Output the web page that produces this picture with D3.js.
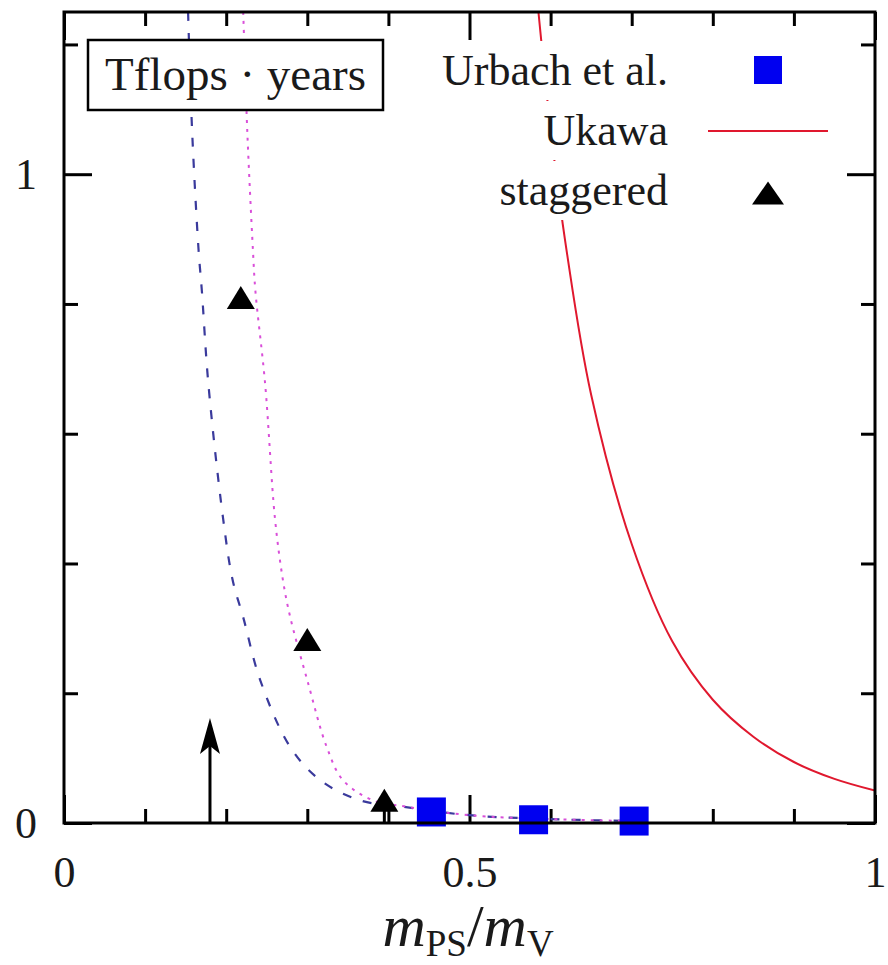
<!DOCTYPE html>
<html>
<head>
<meta charset="utf-8">
<style>
  body { margin: 0; background: #fff; }
  svg { display: block; }
  text { font-family: "Liberation Serif", serif; fill: #1a1a1a; }
  .frame { fill: none; stroke: #000; stroke-width: 3; }
  .axis path { display: none; }
  .axis line { stroke: #000; stroke-width: 3; }
  .axis text { font-size: 44px; font-family: "Liberation Serif", serif; fill: #1a1a1a; }
</style>
</head>
<body>
<svg width="888" height="965"></svg>
<script src="https://cdn.jsdelivr.net/npm/d3@7"></script>
<script>
// values
var urbachX = [0.453, 0.579, 0.703];
var urbachY = [0.017, 0.005, 0.003];

var staggeredX = [0.218, 0.300, 0.395];
var staggeredY = [0.81, 0.283, 0.035];
var staggeredErr = [0, 0, 0.035];

var ukawaX = [0.585, 0.60, 0.62, 0.65, 0.70, 0.75, 0.80, 0.85, 0.90, 0.95, 1.00];
var ukawaY = [1.25, 1.07, 0.88, 0.66, 0.43, 0.28, 0.19, 0.133, 0.094, 0.068, 0.05];

var dashedX = [0.153, 0.158, 0.166, 0.170, 0.178, 0.196, 0.208, 0.221, 0.242, 0.279, 0.316, 0.365, 0.418, 0.50, 0.60, 0.70];
var dashedY = [1.25, 1.066, 0.882, 0.820, 0.677, 0.471, 0.374, 0.317, 0.220, 0.117, 0.066, 0.035, 0.025, 0.012, 0.006, 0.003];

var dottedX = [0.221, 0.226, 0.233, 0.236, 0.248, 0.260, 0.270, 0.279, 0.300, 0.324, 0.344, 0.381, 0.423, 0.50, 0.60, 0.70];
var dottedY = [1.25, 1.066, 0.882, 0.820, 0.677, 0.471, 0.374, 0.317, 0.220, 0.117, 0.066, 0.035, 0.025, 0.012, 0.006, 0.003];

var arrowX = 0.18, arrowTop = 0.162;

var xMajor = [0, 0.5, 1];
var xMinor = [0.1, 0.2, 0.3, 0.4, 0.6, 0.7, 0.8, 0.9];
var yMajor = [0, 1];
var yMinor = [0.2, 0.4, 0.6, 0.8, 1.2];

var legendLabels = ["Urbach et al.", "Ukawa", "staggered"];
var boxLabel = "Tflops \u00b7 years";

var svg = d3.select("svg");

var pLeft = 64, pRight = 875, pTop = 12, pBottom = 823;

var x = d3.scaleLinear().domain([0, 1]).range([pLeft, pRight]);
var y = d3.scaleLinear().domain([0, 1.25]).range([pBottom, pTop]);

var fmt = function(d) { return String(d); };

// ticks, pointing inward on all four sides
svg.append("g").attr("class", "axis")
    .attr("transform", "translate(0," + pBottom + ")")
    .call(d3.axisBottom(x).tickValues(xMajor).tickSize(-28).tickPadding(33).tickFormat(fmt));
svg.append("g").attr("class", "axis")
    .attr("transform", "translate(0," + pBottom + ")")
    .call(d3.axisBottom(x).tickValues(xMinor).tickSize(-14).tickFormat(""));
svg.append("g").attr("class", "axis")
    .attr("transform", "translate(0," + pTop + ")")
    .call(d3.axisTop(x).tickValues(xMajor).tickSize(-28).tickFormat(""));
svg.append("g").attr("class", "axis")
    .attr("transform", "translate(0," + pTop + ")")
    .call(d3.axisTop(x).tickValues(xMinor).tickSize(-14).tickFormat(""));

svg.append("g").attr("class", "axis")
    .attr("transform", "translate(" + pLeft + ",0)")
    .call(d3.axisLeft(y).tickValues(yMajor).tickSize(-28).tickPadding(27).tickFormat(fmt));
svg.append("g").attr("class", "axis")
    .attr("transform", "translate(" + pLeft + ",0)")
    .call(d3.axisLeft(y).tickValues(yMinor).tickSize(-14).tickFormat(""));
svg.append("g").attr("class", "axis")
    .attr("transform", "translate(" + pRight + ",0)")
    .call(d3.axisRight(y).tickValues(yMajor).tickSize(-28).tickFormat(""));
svg.append("g").attr("class", "axis")
    .attr("transform", "translate(" + pRight + ",0)")
    .call(d3.axisRight(y).tickValues(yMinor).tickSize(-14).tickFormat(""));

// curves
svg.append("clipPath").attr("id", "clip")
  .append("rect").attr("x", pLeft).attr("y", pTop).attr("width", pRight - pLeft).attr("height", pBottom - pTop);

var line = d3.line()
    .x(function(d) { return x(d[0]); })
    .y(function(d) { return y(d[1]); })
    .curve(d3.curveCatmullRom.alpha(0.5));

var curves = svg.append("g").attr("clip-path", "url(#clip)");

curves.append("path")
    .datum(d3.zip(dashedX, dashedY))
    .attr("d", line)
    .attr("fill", "none")
    .attr("stroke", "#3a3a9c")
    .attr("stroke-width", 2.2)
    .attr("stroke-dasharray", "9,12");

curves.append("path")
    .datum(d3.zip(dottedX, dottedY))
    .attr("d", line)
    .attr("fill", "none")
    .attr("stroke", "#d94fd9")
    .attr("stroke-width", 2)
    .attr("stroke-dasharray", "3,6");

curves.append("path")
    .datum(d3.zip(ukawaX, ukawaY))
    .attr("d", line)
    .attr("fill", "none")
    .attr("stroke", "#e0182e")
    .attr("stroke-width", 2);

// arrow
var ax = x(arrowX), at = y(arrowTop);
svg.append("line")
    .attr("x1", ax).attr("x2", ax)
    .attr("y1", y(0)).attr("y2", at + 20)
    .attr("stroke", "#000").attr("stroke-width", 3);
svg.append("path")
    .attr("d", "M" + ax + "," + at + "L" + (ax - 10) + "," + (at + 36) + "L" + ax + "," + (at + 28) + "L" + (ax + 10) + "," + (at + 36) + "Z")
    .attr("fill", "#000");

// staggered points with error bar
var tri = function(cx, cy, w, h) {
  return "M" + cx + "," + (cy - h / 2) + "L" + (cx + w / 2) + "," + (cy + h / 2) + "L" + (cx - w / 2) + "," + (cy + h / 2) + "Z";
};

svg.selectAll(".err")
    .data(d3.range(staggeredX.length).filter(function(i) { return staggeredErr[i] > 0; }))
  .enter().append("line")
    .attr("class", "err")
    .attr("x1", function(i) { return x(staggeredX[i]); })
    .attr("x2", function(i) { return x(staggeredX[i]); })
    .attr("y1", function(i) { return y(staggeredY[i]); })
    .attr("y2", function(i) { return y(staggeredY[i] - staggeredErr[i]); })
    .attr("stroke", "#000").attr("stroke-width", 3);

svg.selectAll(".stag")
    .data(d3.zip(staggeredX, staggeredY))
  .enter().append("path")
    .attr("class", "stag")
    .attr("d", function(d) { return tri(x(d[0]), y(d[1]), 28, 23); })
    .attr("fill", "#000");

svg.selectAll(".urb")
    .data(d3.zip(urbachX, urbachY))
  .enter().append("rect")
    .attr("class", "urb")
    .attr("x", function(d) { return x(d[0]) - 14.5; })
    .attr("y", function(d) { return y(d[1]) - 14.5; })
    .attr("width", 29).attr("height", 29)
    .attr("fill", "#0000f0");

// frame
svg.append("rect").attr("class", "frame")
    .attr("x", pLeft).attr("y", pTop).attr("width", pRight - pLeft).attr("height", pBottom - pTop);

// label box top left
svg.append("rect")
    .attr("x", 88).attr("y", 40).attr("width", 295).attr("height", 70)
    .attr("fill", "#fff").attr("stroke", "#000").attr("stroke-width", 2.5);
svg.append("text")
    .attr("x", 235.5).attr("y", 90)
    .attr("text-anchor", "middle")
    .style("font-size", "47px")
    .text(boxLabel);

// legend, each label on an opaque white patch
var legend = svg.append("g");
var rows = legend.selectAll("g")
    .data(legendLabels)
  .enter().append("g")
    .attr("transform", function(d, i) { return "translate(0," + (85 + i * 60) + ")"; });

rows.append("text")
    .attr("x", 668)
    .attr("text-anchor", "end")
    .style("font-size", "44px")
    .text(function(d) { return d; });

rows.each(function() {
  var g = d3.select(this), b = g.select("text").node().getBBox();
  g.insert("rect", "text")
      .attr("x", b.x - 6).attr("y", b.y - 5)
      .attr("width", b.width + 12).attr("height", b.height + 10)
      .attr("fill", "#fff");
});

rows.filter(function(d, i) { return i === 0; }).append("rect")
    .attr("x", 754).attr("y", -29).attr("width", 28).attr("height", 28)
    .attr("fill", "#0000f0");
rows.filter(function(d, i) { return i === 1; }).append("line")
    .attr("x1", 708).attr("x2", 828).attr("y1", -14).attr("y2", -14)
    .attr("stroke", "#e0182e").attr("stroke-width", 2);
rows.filter(function(d, i) { return i === 2; }).append("path")
    .attr("d", tri(768, -12, 32, 23))
    .attr("fill", "#000");

// x axis title
var title = svg.append("text")
    .attr("x", 468).attr("y", 946)
    .attr("text-anchor", "middle")
    .style("font-size", "60px");
title.append("tspan").style("font-style", "italic").text("m");
title.append("tspan").attr("dy", 10).style("font-size", "37px").text("PS");
title.append("tspan").attr("dy", -10).text("/");
title.append("tspan").style("font-style", "italic").text("m");
title.append("tspan").attr("dy", 10).style("font-size", "37px").text("V");
</script>
</body>
</html>
